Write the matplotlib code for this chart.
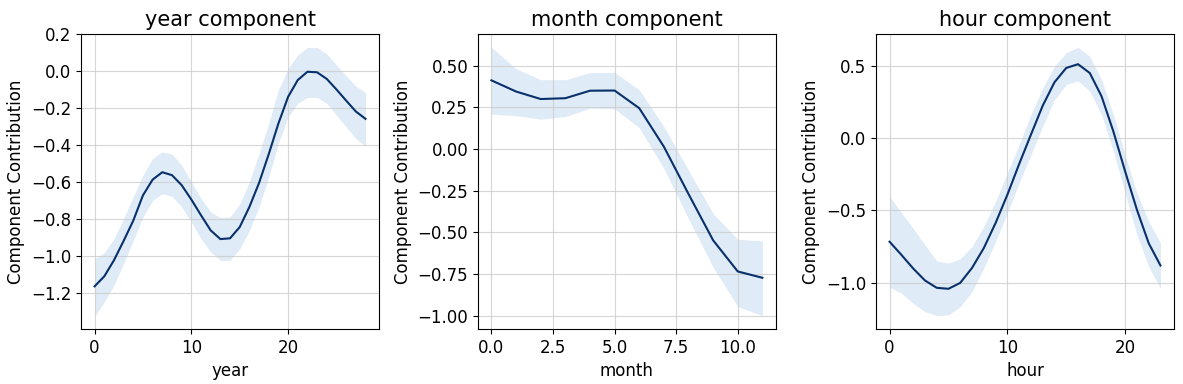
import matplotlib
matplotlib.use("Agg")
import matplotlib.pyplot as plt
from matplotlib.ticker import MultipleLocator
import numpy as np

# year component
year_x = np.arange(29)
year_mean = [-1.166, -1.112, -1.025, -0.92, -0.81, -0.673, -0.588, -0.548, -0.564, -0.618,
             -0.696, -0.781, -0.863, -0.91, -0.906, -0.845, -0.736, -0.606, -0.45, -0.284,
             -0.14, -0.049, -0.004, -0.007, -0.043, -0.1, -0.16, -0.219, -0.259]
year_upper = [-1.016, -0.984, -0.908, -0.80, -0.68, -0.564, -0.474, -0.438, -0.45, -0.51,
              -0.60, -0.69, -0.763, -0.794, -0.79, -0.72, -0.60, -0.447, -0.284, -0.103,
              0.014, 0.087, 0.127, 0.127, 0.092, 0.033, -0.027, -0.081, -0.116]
year_lower = [-1.33, -1.25, -1.16, -1.043, -0.917, -0.79, -0.70, -0.664, -0.678, -0.736,
              -0.817, -0.908, -0.98, -1.025, -1.025, -0.962, -0.863, -0.736, -0.573, -0.392,
              -0.248, -0.175, -0.143, -0.143, -0.175, -0.239, -0.302, -0.365, -0.407]

# month component
month_x = np.arange(12)
month_mean = [0.412, 0.345, 0.30, 0.305, 0.35, 0.351, 0.245, 0.014, -0.27, -0.548, -0.735, -0.773]
month_upper = [0.61, 0.482, 0.416, 0.416, 0.458, 0.46, 0.355, 0.135, -0.127, -0.388, -0.542, -0.552]
month_lower = [0.209, 0.20, 0.179, 0.195, 0.245, 0.241, 0.128, -0.117, -0.418, -0.709, -0.946, -1.0]

# hour component
hour_x = np.arange(24)
hour_mean = [-0.716, -0.806, -0.90, -0.983, -1.034, -1.041, -1.0, -0.897, -0.76, -0.587,
             -0.392, -0.18, 0.023, 0.223, 0.385, 0.484, 0.51, 0.449, 0.288, 0.046,
             -0.23, -0.495, -0.726, -0.88]
hour_upper = [-0.403, -0.514, -0.624, -0.737, -0.848, -0.864, -0.834, -0.749, -0.611, -0.438,
              -0.242, -0.046, 0.161, 0.345, 0.495, 0.591, 0.626, 0.564, 0.403, 0.161,
              -0.115, -0.38, -0.576, -0.726]
hour_lower = [-1.03, -1.071, -1.14, -1.198, -1.226, -1.221, -1.164, -1.06, -0.899, -0.714,
              -0.518, -0.311, -0.115, 0.081, 0.265, 0.369, 0.396, 0.323, 0.161, -0.092,
              -0.38, -0.668, -0.887, -1.037]

components = [
    ("year", year_x, year_mean, year_lower, year_upper),
    ("month", month_x, month_mean, month_lower, month_upper),
    ("hour", hour_x, hour_mean, hour_lower, hour_upper),
]

plt.rcParams['font.size'] = 12

fig, axes = plt.subplots(1, 3, figsize=(11.83, 3.84), dpi=100)
positions = [0.0685, 0.404, 0.7405]
for ax, left, (name, x, mean, lo, hi) in zip(axes, positions, components):
    ax.fill_between(x, lo, hi, color='#c6dbef', alpha=0.55, linewidth=0)
    ax.plot(x, mean, color='#08306b', linewidth=1.5)
    ax.set_title('{} component'.format(name), fontsize=15)
    ax.set_xlabel(name)
    ax.set_ylabel('Component Contribution')
    ax.grid(True, color='#cccccc', linewidth=0.8, alpha=0.8)
    ax.set_position([left, 0.1432, 0.2519, 0.7683])

# le panneau year a des graduations tous les 0.2
axes[0].yaxis.set_major_locator(MultipleLocator(0.2))
axes[0].set_ylim(-1.397, 0.2005)

fig.savefig('out.png', dpi=100)
